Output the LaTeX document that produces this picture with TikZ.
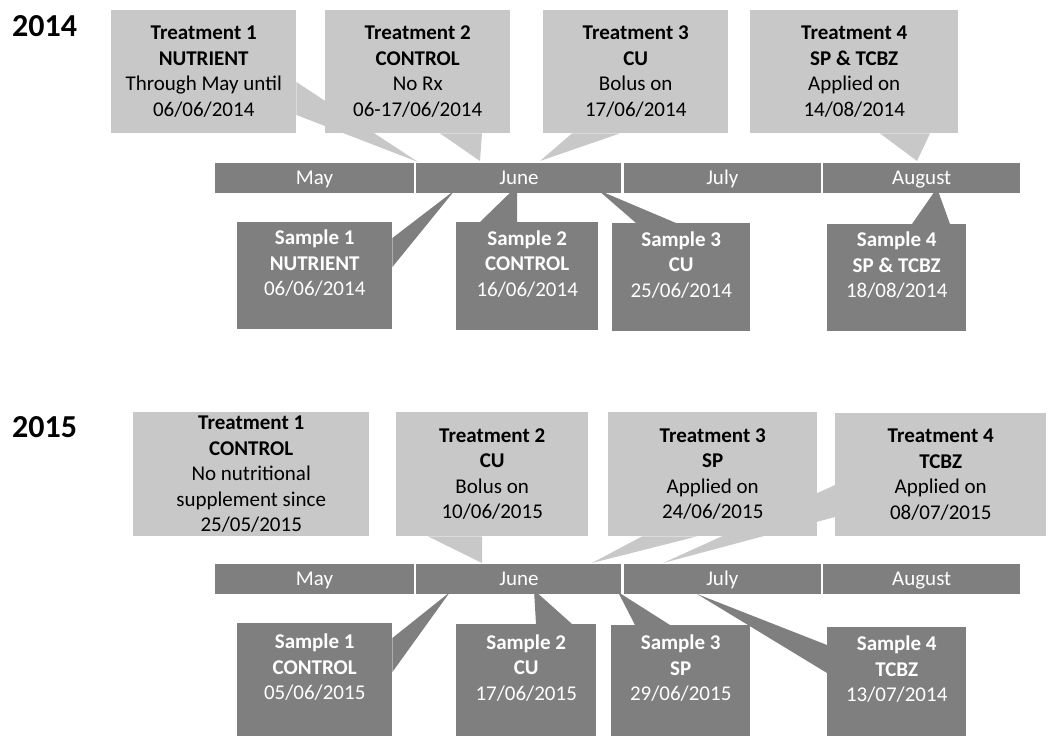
\documentclass[tikz,border=0pt]{standalone}
\usepackage{fontspec}
\setmainfont{Carlito}
\usetikzlibrary{positioning,backgrounds}
\definecolor{lightbox}{RGB}{200,200,200}
\definecolor{darkbox}{RGB}{127,127,127}
\tikzset{
  treat/.style={fill=lightbox, anchor=north west, align=center, inner sep=0pt, text=black, font=\fontsize{21}{25.5}\selectfont},
  sample/.style={fill=darkbox, anchor=north west, align=center, inner sep=0pt, text=white, font=\fontsize{21}{25.5}\selectfont},
  month/.style={fill=darkbox, minimum height=30pt, inner sep=0pt, text height=16pt, text depth=4pt, text=white, font=\fontsize{21}{24}\selectfont},
  year/.style={anchor=base west, inner sep=0pt, font=\fontsize{32}{38}\selectfont\bfseries},
}
\begin{document}
\begin{tikzpicture}[x=1pt, y=-1pt]
  \useasboundingbox (0,0) rectangle (1052,736);

  % 2014
  \node[year] (y14) at (12,36) {2014};
  \node[treat, minimum width=185pt, minimum height=123pt] (tA1) at (111,10) {\textbf{Treatment 1}\\\textbf{NUTRIENT}\\Through May until\\06/06/2014};
  \node[treat, minimum width=185pt, minimum height=123pt] (tA2) at (325,10) {\textbf{Treatment 2}\\\textbf{CONTROL}\\No Rx\\06-17/06/2014};
  \node[treat, minimum width=185pt, minimum height=123pt] (tA3) at (543,10) {\textbf{Treatment 3}\\\textbf{CU}\\Bolus on\\17/06/2014};
  \node[treat, minimum width=208pt, minimum height=123pt] (tA4) at (750,10) {\textbf{Treatment 4}\\\textbf{SP \& TCBZ}\\Applied on\\14/08/2014};

  \node[month, minimum width=199pt] (mayA) at (314.5,178) {May};
  \node[month, minimum width=205pt, right=2pt of mayA] (junA) {June};
  \node[month, minimum width=197pt, right=2pt of junA] (julA) {July};
  \node[month, minimum width=197pt, right=2pt of julA] (augA) {August};

  \node[sample, minimum width=155pt, minimum height=107pt] (sA1) at (237,222) {\textbf{Sample 1}\\\textbf{NUTRIENT}\\06/06/2014\\~};
  \node[sample, minimum width=142pt, minimum height=108pt] (sA2) at (456,222) {\textbf{Sample 2}\\\textbf{CONTROL}\\16/06/2014\\~};
  \node[sample, minimum width=138pt, minimum height=108pt] (sA3) at (612,223) {\textbf{Sample 3}\\\textbf{CU}\\25/06/2014\\~};
  \node[sample, minimum width=139pt, minimum height=107pt] (sA4) at (827,224) {\textbf{Sample 4}\\\textbf{SP \& TCBZ}\\18/08/2014\\~};

  \coordinate (pA1) at (418,162);
  \coordinate (pA2) at (480,161);
  \coordinate (pA3) at (540,161);
  \coordinate (pA4) at (917,161);
  \coordinate (qA1) at (455,190);
  \coordinate (qA2) at (517,186);
  \coordinate (qA3) at (598,190);
  \coordinate (qA4) at (937,188);

  % 2015
  \node[year] (y15) at (12,437) {2015};
  \node[treat, minimum width=236pt, minimum height=124pt] (tB1) at (133,412) {\textbf{Treatment 1}\\\textbf{CONTROL}\\No nutritional\\supplement since\\25/05/2015};
  \node[treat, minimum width=192pt, minimum height=124pt] (tB2) at (396,412) {\textbf{Treatment 2}\\\textbf{CU}\\Bolus on\\10/06/2015};
  \node[treat, minimum width=209pt, minimum height=124pt] (tB3) at (608,412) {\textbf{Treatment 3}\\\textbf{SP}\\Applied on\\24/06/2015};
  \node[treat, minimum width=211pt, minimum height=123pt] (tB4) at (835,413) {\textbf{Treatment 4}\\\textbf{TCBZ}\\Applied on\\08/07/2015};

  \node[month, minimum width=199pt] (mayB) at (314.5,579) {May};
  \node[month, minimum width=205pt, right=2pt of mayB] (junB) {June};
  \node[month, minimum width=197pt, right=2pt of junB] (julB) {July};
  \node[month, minimum width=197pt, right=2pt of julB] (augB) {August};

  \node[sample, minimum width=155pt, minimum height=113pt] (sB1) at (237,623) {\textbf{Sample 1}\\\textbf{CONTROL}\\05/06/2015\\~};
  \node[sample, minimum width=140pt, minimum height=112pt] (sB2) at (456,624) {\textbf{Sample 2}\\\textbf{CU}\\17/06/2015\\~};
  \node[sample, minimum width=139pt, minimum height=111pt] (sB3) at (611,625) {\textbf{Sample 3}\\\textbf{SP}\\29/06/2015\\~};
  \node[sample, minimum width=139pt, minimum height=109pt] (sB4) at (827,627) {\textbf{Sample 4}\\\textbf{TCBZ}\\13/07/2014\\~};

  \coordinate (pB2) at (482,563);
  \coordinate (pB3) at (592,563);
  \coordinate (pB4) at (663,563);
  \coordinate (qB1) at (450,592);
  \coordinate (qB2) at (534,590);
  \coordinate (qB3) at (618,592);
  \coordinate (qB4) at (697,594);

  \begin{scope}[on background layer]
    \fill[lightbox] ([yshift=-72pt]tA1.north east) -- (pA1) -- ([yshift=-105pt]tA1.north east) -- cycle;
    \fill[lightbox] ([xshift=115pt]tA2.south west) -- (pA2) -- ([xshift=157pt]tA2.south west) -- cycle;
    \fill[lightbox] ([xshift=29pt]tA3.south west) -- (pA3) -- ([xshift=77pt]tA3.south west) -- cycle;
    \fill[lightbox] ([xshift=130pt]tA4.south west) -- (pA4) -- ([xshift=180pt]tA4.south west) -- cycle;
    \fill[darkbox] ([yshift=-16pt]sA1.north east) -- (qA1) -- ([yshift=-45pt]sA1.north east) -- cycle;
    \fill[darkbox] ([xshift=24pt]sA2.north west) -- (qA2) -- ([xshift=61pt]sA2.north west) -- cycle;
    \fill[darkbox] ([xshift=24pt]sA3.north west) -- (qA3) -- ([xshift=64pt]sA3.north west) -- cycle;
    \fill[darkbox] ([xshift=85pt]sA4.north west) -- (qA4) -- ([xshift=123pt]sA4.north west) -- cycle;

    \fill[lightbox] ([xshift=32pt]tB2.south west) -- (pB2) -- ([xshift=86pt]tB2.south west) -- cycle;
    \fill[lightbox] ([xshift=34pt]tB3.south west) -- (pB3) -- ([xshift=89pt]tB3.south west) -- cycle;
    \fill[lightbox] ([yshift=-72pt]tB4.north west) -- (pB4) -- ([yshift=-104pt]tB4.north west) -- cycle;
    \fill[darkbox] ([yshift=-15pt]sB1.north east) -- (qB1) -- ([yshift=-49pt]sB1.north east) -- cycle;
    \fill[darkbox] ([xshift=80pt]sB2.north west) -- (qB2) -- ([xshift=116pt]sB2.north west) -- cycle;
    \fill[darkbox] ([xshift=24pt]sB3.north west) -- (qB3) -- ([xshift=59pt]sB3.north west) -- cycle;
    \fill[darkbox] ([yshift=-18pt]sB4.north west) -- (qB4) -- ([yshift=-46pt]sB4.north west) -- cycle;
  \end{scope}
\end{tikzpicture}
\end{document}
